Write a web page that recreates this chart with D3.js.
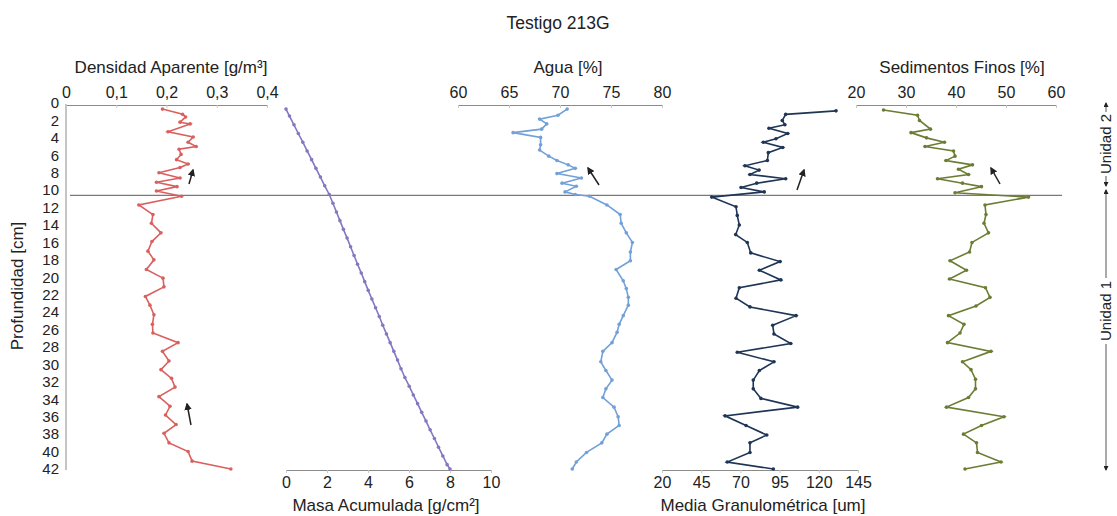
<!DOCTYPE html>
<html>
<head>
<meta charset="utf-8">
<script src="https://cdn.jsdelivr.net/npm/d3@7"></script>
<style>
  body { margin: 0; background: #fff; }
  text { font-family: "Liberation Sans", Arial, sans-serif; fill: #222; }
</style>
</head>
<body>
<div id="chart"></div>
<script>
// depth ticks (cm)
var depthTicks = d3.range(0, 43, 2)

// Densidad Aparente
var densDepth = [0.7,1.3,1.6,2.2,2.4,3.3,3.9,4.5,5.0,5.3,5.9,6.5,7.0,7.4,8.0,8.6,9.1,9.6,10.1,10.7,11.7,12.8,13.8,14.9,15.9,17.0,18.0,19.1,20.1,21.1,22.2,23.2,24.3,25.4,26.4,27.5,28.5,29.6,30.6,31.6,32.6,33.7,34.8,35.8,36.9,37.9,39.0,40.0,41.1,42.0]
var densVal = [0.192,0.232,0.238,0.227,0.247,0.203,0.253,0.243,0.259,0.225,0.229,0.220,0.243,0.227,0.185,0.227,0.180,0.221,0.180,0.230,0.145,0.173,0.170,0.189,0.171,0.163,0.175,0.160,0.193,0.195,0.158,0.167,0.175,0.172,0.173,0.223,0.192,0.205,0.189,0.210,0.217,0.185,0.207,0.198,0.219,0.195,0.205,0.243,0.251,0.328]

// Masa Acumulada
var masaDepth = [0.7,1.5,2.5,3.5,4.5,5.5,6.5,7.5,8.5,9.5,10.5,11.5,12.5,13.5,14.5,15.5,16.5,17.5,18.5,19.5,20.5,21.5,22.5,23.5,24.5,25.5,26.5,27.5,28.5,29.5,30.5,31.5,32.5,33.5,34.5,35.5,36.5,37.5,38.5,39.5,40.5,41.5,42.0]
var masaVal = [0,0.17,0.39,0.60,0.82,1.03,1.25,1.46,1.68,1.89,2.11,2.29,2.46,2.63,2.80,2.98,3.15,3.32,3.49,3.67,3.84,4.01,4.19,4.37,4.55,4.72,4.90,5.08,5.26,5.44,5.61,5.80,6.01,6.21,6.42,6.62,6.83,7.03,7.24,7.44,7.65,7.86,8.0]

// Agua
var aguaDepth = [0.7,1.4,1.85,2.4,3.0,3.4,3.95,4.8,5.4,6.1,6.6,7.1,7.5,8.1,8.6,9.2,9.55,10.2,10.5,10.7,11.7,12.8,13.8,14.9,16.0,17.1,18.1,19.1,20.4,21.3,22.3,23.2,24.4,25.4,26.3,27.5,28.5,29.7,30.7,31.8,32.8,33.8,34.9,36.0,37.0,38.0,39.0,40.1,41.2,42.0]
var aguaVal = [70.7,69.8,68.0,68.7,68.2,65.4,68.1,68.1,68.0,68.9,69.7,70.8,71.5,69.7,72.1,70.2,71.6,70.5,71.5,72.9,74.6,75.9,76.0,76.5,77.1,76.9,76.9,75.5,76.2,76.5,76.7,76.7,76.2,75.8,75.6,75.1,74.2,74.0,74.5,75.1,74.5,74.2,75.3,75.7,75.8,74.6,74.1,72.6,71.6,71.2]

// Media Granulometrica
var granDepth = [0.9,1.3,2.0,2.5,2.9,3.5,4.1,4.5,5.1,5.7,6.6,7.2,7.7,8.2,8.7,9.2,9.7,10.2,10.8,11.9,12.9,14.0,15.1,16.0,17.2,18.2,19.2,20.3,21.2,22.4,23.4,24.4,25.5,26.5,27.6,28.6,29.7,30.7,31.8,32.8,33.9,34.9,35.9,37.0,38.1,39.0,40.1,41.2,42.0]
var granVal = [131,98.9,96.7,98.4,88.2,100.2,92.7,84.6,97,87.8,87.2,72.9,81.9,76.1,98.9,80.4,70.4,85.2,51.7,67.2,68.0,69.3,67,74.4,76.6,95.3,82.1,95.8,69.3,67.2,76.1,105.5,90.6,91.4,102.1,68,91.4,82.1,78.2,78.2,83.1,106.5,60.2,73.6,86.8,76.1,76.1,61.6,91]

// Sedimentos Finos
var sedDepth = [0.8,1.4,2.0,3.0,3.4,4.0,4.5,5.0,5.5,6.1,6.6,7.1,7.6,8.2,8.7,9.2,9.6,10.3,10.8,11.7,12.8,13.8,14.9,16.0,17.1,18.1,19.2,20.2,21.2,22.3,23.3,24.4,25.4,26.4,27.5,28.5,29.7,30.6,31.7,32.8,33.8,34.9,36.0,37.0,38.0,39.0,40.1,41.2,42.0]
var sedVal = [25.5,32.3,32.7,34.9,31,34.1,37.7,33.8,39.5,39.8,38,43.3,40.5,42.5,36.3,41.3,45.1,39.8,54.5,45.8,46,45.6,46.5,43.2,42.7,38.8,42.1,38.7,45.9,46.8,44,38.5,41.6,40.8,38.3,47,41.3,43,43.9,43.9,42.5,38.1,49.6,45.1,41.5,44.1,44.3,49,41.8]

var width = 1117, height = 516
var svg = d3.select("#chart").append("svg")
    .attr("width", width)
    .attr("height", height)

var y = d3.scaleLinear().domain([0, 42]).range([103, 469])
var axisColor = "#8a8a8a"
var boundary = 10.6

svg.append("text")
    .attr("x", 558).attr("y", 29)
    .attr("text-anchor", "middle")
    .style("font-size", "17.5px")
    .text("Testigo 213G")

// depth axis
var depthAxis = svg.append("g")
    .attr("transform", "translate(66,0)")
    .call(d3.axisLeft(y).tickValues(depthTicks).tickSize(0).tickPadding(7))
depthAxis.select(".domain").attr("stroke", axisColor).attr("d", "M0," + (y(0)+1) + "V" + (y(42)+1))
depthAxis.selectAll("text").style("font-size", "15px").attr("fill", "#222")

svg.append("text")
    .attr("transform", "translate(23,286) rotate(-90)")
    .attr("text-anchor", "middle")
    .style("font-size", "17px")
    .text("Profundidad [cm]")

// boundary between units
svg.append("line")
    .attr("x1", 70).attr("x2", 1062)
    .attr("y1", y(boundary)).attr("y2", y(boundary))
    .attr("stroke", "#7a7a7a").attr("stroke-width", 1.2)

var panels = [
    {depth: densDepth, val: densVal, domain: [0, 0.4], range: [66, 267], ticks: [0, 0.1, 0.2, 0.3, 0.4], top: true,
     fmt: function(d){ return d3.format(".1~f")(d).replace(".", ",") }, color: "#d9605f",
     title: "Densidad Aparente [g/m\u00b3]", titleX: 171},
    {depth: masaDepth, val: masaVal, domain: [0, 10], range: [286, 491], ticks: [0, 2, 4, 6, 8, 10], top: false,
     fmt: d3.format("d"), color: "#8677c0", title: "Masa Acumulada [g/cm\u00b2]", titleX: 386},
    {depth: aguaDepth, val: aguaVal, domain: [60, 80], range: [458, 662], ticks: [60, 65, 70, 75, 80], top: true,
     fmt: d3.format("d"), color: "#72a0d8", title: "Agua [%]", titleX: 568},
    {depth: granDepth, val: granVal, domain: [20, 145], range: [662, 858], ticks: [20, 45, 70, 95, 120, 145], top: false,
     fmt: d3.format("d"), color: "#1e3556", title: "Media Granulom\u00e9trica [um]", titleX: 763},
    {depth: sedDepth, val: sedVal, domain: [20, 60], range: [856, 1056], ticks: [20, 30, 40, 50, 60], top: true,
     fmt: d3.format("d"), color: "#6a7d33", title: "Sedimentos Finos [%]", titleX: 962}
]

panels.forEach(function(p){
    var x = d3.scaleLinear().domain(p.domain).range(p.range)
    var axisY = p.top ? 105 : 470
    var ax = p.top ? d3.axisTop(x) : d3.axisBottom(x)
    var g = svg.append("g")
        .attr("transform", "translate(0," + axisY + ")")
        .call(ax.tickValues(p.ticks).tickFormat(p.fmt).tickSize(p.top ? -3 : 3).tickPadding(p.top ? 7 : 4).tickSizeOuter(0))
    g.select(".domain").attr("stroke", axisColor)
    g.selectAll(".tick line").attr("stroke", "#c8c8c8")
    g.selectAll("text").style("font-size", "16px").attr("fill", "#222")

    svg.append("text")
        .attr("x", p.titleX)
        .attr("y", p.top ? 73 : 511)
        .attr("text-anchor", "middle")
        .style("font-size", "17px")
        .text(p.title)

    var pts = p.depth.map(function(d, i){ return [x(p.val[i]), y(d)] })
    svg.append("path")
        .attr("d", d3.line()(pts))
        .attr("fill", "none")
        .attr("stroke", p.color)
        .attr("stroke-width", 1.6)
    svg.append("g").selectAll("circle")
        .data(pts)
        .enter().append("circle")
        .attr("cx", function(d){ return d[0] })
        .attr("cy", function(d){ return d[1] })
        .attr("r", 1.8)
        .attr("fill", p.color)
})

// trend arrows
svg.append("defs").append("marker")
    .attr("id", "head")
    .attr("viewBox", "0 0 10 10")
    .attr("refX", 8).attr("refY", 5)
    .attr("markerWidth", 5).attr("markerHeight", 5)
    .attr("orient", "auto")
    .append("path").attr("d", "M0,0L10,5L0,10z").attr("fill", "#222")

var arrows = [
    [[189, 184], [193, 170]],
    [[191, 425], [187, 404]],
    [[599, 185], [588, 168]],
    [[797, 190], [804, 170]],
    [[1000, 184], [991, 168]]
]
svg.selectAll(".arrow")
    .data(arrows)
    .enter().append("line")
    .attr("class", "arrow")
    .attr("x1", function(d){ return d[0][0] })
    .attr("y1", function(d){ return d[0][1] })
    .attr("x2", function(d){ return d[1][0] })
    .attr("y2", function(d){ return d[1][1] })
    .attr("stroke", "#222").attr("stroke-width", 1.5)
    .attr("marker-end", "url(#head)")

// unit labels on the right
var ux = 1106
var unitG = svg.append("g")
var bracket = function(y1, y2){
    unitG.append("line")
        .attr("x1", ux).attr("x2", ux).attr("y1", y1).attr("y2", y2)
        .attr("stroke", "#555").attr("stroke-width", 1)
        .attr("marker-end", "url(#head)")
}
// Unidad 2
bracket(112, 103)
bracket(176, 186)
unitG.append("text")
    .attr("transform", "translate(" + (ux + 5) + ",144) rotate(-90)")
    .attr("text-anchor", "middle")
    .style("font-size", "15px")
    .text("Unidad 2")
// Unidad 1
bracket(278, 190)
bracket(344, 470)
unitG.append("text")
    .attr("transform", "translate(" + (ux + 5) + ",311) rotate(-90)")
    .attr("text-anchor", "middle")
    .style("font-size", "15px")
    .text("Unidad 1")
</script>
</body>
</html>
